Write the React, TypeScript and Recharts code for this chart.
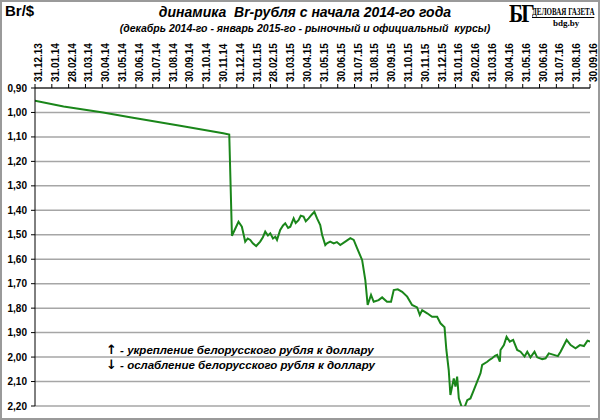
import React from "react";
import { LineChart, Line, XAxis, YAxis, CartesianGrid } from "recharts";

// month-end labels along the top axis (index 0 = 31.12.13)
const monthLabels = [
  "31.12.13", "31.01.14", "28.02.14", "31.03.14", "30.04.14", "31.05.14",
  "30.06.14", "31.07.14", "31.08.14", "30.09.14", "31.10.14", "30.11.14",
  "31.12.14", "31.01.15", "28.02.15", "31.03.15", "30.04.15", "31.05.15",
  "30.06.15", "31.07.15", "31.08.15", "30.09.15", "31.10.15", "30.11.15",
  "31.12.15", "31.01.16", "29.02.16", "31.03.16", "30.04.16", "31.05.16",
  "30.06.16", "31.07.16", "31.08.16", "30.09.16",
];

const yTicks = [0.9, 1.0, 1.1, 1.2, 1.3, 1.4, 1.5, 1.6, 1.7, 1.8, 1.9, 2.0, 2.1, 2.2];

// position in months since 31.12.13
const months = [
  0, 1.7, 4.05, 5.65, 8.63, 11.19, 11.55, 11.71, 12.1, 12.3, 12.5, 12.65, 12.8,
  12.95, 13.15, 13.39, 13.55, 13.69, 13.85, 13.99, 14.15, 14.29, 14.39, 14.58,
  14.75, 14.88, 15.05, 15.18, 15.38, 15.5, 15.67, 15.8, 15.97, 16.1, 16.27,
  16.45, 16.61, 16.77, 16.96, 17.07, 17.26, 17.36, 17.55, 17.76, 17.95, 18.15,
  18.45, 18.75, 18.95, 19.15, 19.45, 19.64, 19.78, 19.98, 20.14, 20.43, 20.64,
  20.93, 21.17, 21.33, 21.57, 21.83, 22.13, 22.42, 22.72, 22.88, 23.02, 23.32,
  23.61, 23.91, 24.11, 24.35, 24.46, 24.6, 24.7, 24.9, 25.0, 25.1, 25.2, 25.4,
  25.54, 25.7, 25.89, 26.09, 26.29, 26.49, 26.59, 26.89, 27.05, 27.18, 27.35,
  27.48, 27.64, 27.68, 27.88, 28.04, 28.23, 28.43, 28.67, 28.87, 29.11, 29.27,
  29.46, 29.7, 29.86, 30.16, 30.36, 30.55, 30.85, 31.09, 31.25, 31.61, 31.85,
  32.14, 32.4, 32.64, 32.85, 33.0,
];

// Br per $ (denominated)
const rate = [
  0.952, 0.976, 1.0, 1.02, 1.054, 1.085, 1.09, 1.504, 1.447, 1.467, 1.528, 1.515, 1.521,
  1.535, 1.546, 1.528, 1.51, 1.487, 1.503, 1.494, 1.515, 1.508, 1.521, 1.48,
  1.462, 1.453, 1.472, 1.467, 1.433, 1.452, 1.44, 1.422, 1.426, 1.445, 1.433,
  1.418, 1.406, 1.433, 1.46, 1.5, 1.542, 1.535, 1.528, 1.535, 1.53, 1.542,
  1.528, 1.514, 1.521, 1.555, 1.603, 1.685, 1.787, 1.746, 1.774, 1.767, 1.756,
  1.774, 1.774, 1.726, 1.723, 1.733, 1.753, 1.787, 1.797, 1.828, 1.808, 1.821,
  1.835, 1.835, 1.862, 1.878, 1.971, 2.053, 2.155, 2.087, 2.121, 2.08, 2.169, 2.21,
  2.206, 2.176, 2.169, 2.135, 2.1, 2.066, 2.032, 2.019, 2.01, 2.005, 1.995,
  1.991, 2.019, 1.971, 1.951, 1.917, 1.937, 1.93, 1.971, 1.978, 1.998, 1.978,
  2.001, 1.978, 2.001, 2.009, 2.005, 1.985, 1.991, 1.996, 1.978, 1.93, 1.951,
  1.964, 1.951, 1.955, 1.933, 1.937,
];

const data = months.map((m, i) => ({ m, v: rate[i] }));

const labelFont = "'Liberation Sans', Arial, sans-serif";
const serif = "'Liberation Serif', 'DejaVu Serif', serif";

const MonthTick = (props: any) => {
  const { x, y, payload } = props;
  return (
    <text
      transform={`translate(${x + 3.5},${y}) rotate(-90)`}
      textAnchor="start"
      dominantBaseline="central"
      fontFamily={labelFont}
      fontWeight="bold"
      fontSize={10}
      fill="#000"
    >
      {monthLabels[payload.value]}
    </text>
  );
};

const RateTick = (props: any) => {
  const { x, y, payload } = props;
  return (
    <text
      x={x}
      y={y}
      textAnchor="end"
      dominantBaseline="central"
      fontFamily={labelFont}
      fontWeight="bold"
      fontSize={10}
      fill="#000"
    >
      {payload.value.toFixed(2).replace(".", ",")}
    </text>
  );
};

export default function App() {
  return (
    <div style={{ position: "absolute", left: 0, top: 0, width: 600, height: 420, background: "#fff" }}>
      <LineChart
        width={600}
        height={420}
        data={data}
        margin={{ top: 28, right: 10, bottom: 14, left: 0 }}
      >
        <CartesianGrid horizontal vertical={false} stroke="#a6a6a6" strokeWidth={1.5} />
        <XAxis
          dataKey="m"
          type="number"
          orientation="top"
          domain={[0, 33]}
          ticks={monthLabels.map((_, i) => i)}
          interval={0}
          height={60}
          tick={<MonthTick />}
          tickSize={4}
          tickMargin={2}
          stroke="#000"
          allowDataOverflow
        />
        <YAxis
          type="number"
          reversed
          domain={[0.9, 2.2]}
          ticks={yTicks}
          interval={0}
          width={35}
          tick={<RateTick />}
          tickSize={4}
          tickMargin={4}
          stroke="#000"
          allowDataOverflow
        />
        <Line
          type="linear"
          dataKey="v"
          stroke="#1a861a"
          strokeWidth={2}
          dot={false}
          isAnimationActive={false}
        />
      </LineChart>

      <div style={{ position: "absolute", left: 5, top: 2, fontFamily: labelFont, fontWeight: "bold", fontSize: 15, color: "#000" }}>
        Br/$
      </div>
      <div style={{ position: "absolute", left: 120, width: 370, top: 4, textAlign: "center", fontFamily: labelFont, fontWeight: "bold", fontStyle: "italic", fontSize: 14, color: "#000" }}>
        динамика&nbsp; Br-рубля с начала 2014-го года
      </div>
      <div style={{ position: "absolute", left: 110, width: 390, top: 22, textAlign: "center", fontFamily: labelFont, fontWeight: "bold", fontStyle: "italic", fontSize: 10.5, color: "#000", whiteSpace: "nowrap" }}>
        (декабрь 2014-го - январь 2015-го - рыночный и официальный&nbsp; курсы)
      </div>

      <div style={{ position: "absolute", left: 509, top: 0, fontFamily: serif, fontWeight: "bold", fontSize: 25, lineHeight: "28px", color: "#000", letterSpacing: -2, transform: "scaleX(0.85)", transformOrigin: "left" }}>
        БГ
      </div>
      <div style={{ position: "absolute", left: 532, top: 6, fontFamily: serif, fontWeight: "bold", fontSize: 10, lineHeight: "11px", color: "#000", transform: "scaleX(0.7)", transformOrigin: "left", whiteSpace: "nowrap", borderBottom: "1px solid #000" }}>
        ДЕЛОВАЯ ГАЗЕТА
      </div>
      <div style={{ position: "absolute", left: 553, top: 18, fontFamily: serif, fontWeight: "bold", fontSize: 9, color: "#000" }}>
        bdg.by
      </div>

      <div style={{ position: "absolute", left: 106, top: 342, fontFamily: labelFont, fontWeight: "bold", fontSize: 11.5, color: "#000", whiteSpace: "nowrap" }}>
        <span style={{ fontFamily: "'DejaVu Sans', sans-serif", fontSize: 13 }}>↑</span> <i>- укрепление белорусского рубля к доллару</i>
      </div>
      <div style={{ position: "absolute", left: 106, top: 357, fontFamily: labelFont, fontWeight: "bold", fontSize: 11.5, color: "#000", whiteSpace: "nowrap" }}>
        <span style={{ fontFamily: "'DejaVu Sans', sans-serif", fontSize: 13 }}>↓</span> <i>- ослабление белорусского рубля к доллару</i>
      </div>

      <div style={{ position: "absolute", left: 0, top: 0, width: 600, height: 420, boxSizing: "border-box", border: "2px solid #9a9a9a", pointerEvents: "none" }} />
    </div>
  );
}
